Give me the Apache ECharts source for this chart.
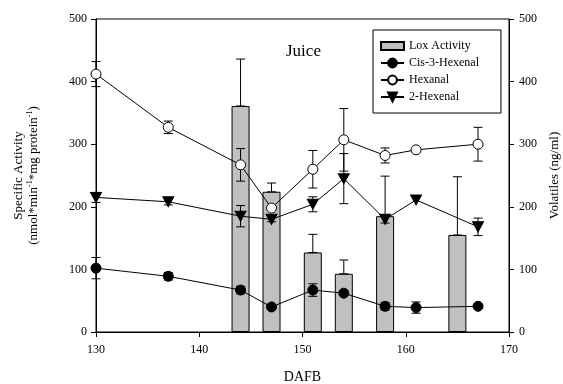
<!DOCTYPE html>
<html>
<head>
<meta charset="utf-8">
<script src="https://cdn.jsdelivr.net/npm/echarts@6/dist/echarts.min.js"></script>
<style>
  html, body { margin: 0; padding: 0; background: #fff; }
  #juiceChart { width: 563px; height: 384px; }
</style>
</head>
<body>
<div id="juiceChart"></div>
<script>
// 采样日 (DAFB)
var days = [130, 137, 144, 147, 151, 154, 158, 161, 167];
// 挥发物 (ng/ml) 及误差
var cisHexenal = [102, 89, 67, 40, 67, 62, 41, 39, 41];
var cisHexenalErr = [17, 6, 6, 2, 10, 3, 6, 9, 2];
var hexanal = [412, 327, 267, 198, 260, 307, 282, 291, 300];
var hexanalErr = [20, 10, 26, 3, 30, 50, 12, 0, 27];
var hexenal2 = [215, 208, 185, 180, 204, 245, 180, 211, 168];
var hexenal2Err = [8, 5, 17, 4, 12, 40, 6, 0, 14];
// Lox 活性
var loxDays = [144, 147, 151, 154, 158, 165];
var loxActivity = [361, 224, 127, 93, 185, 155];
var loxErr = [75, 14, 29, 22, 64, 93];
// 刻度
var xTicks = [130, 140, 150, 160, 170];
var yTicks = [0, 100, 200, 300, 400, 500];

var FONT = "'Liberation Serif', 'DejaVu Serif', serif";

function pairs(xs, ys) {
  return xs.map(function (x, i) { return [x, ys[i]]; });
}
// [x, low, high]
function errRange(xs, ys, es, upOnly) {
  return xs.map(function (x, i) {
    return [x, upOnly ? ys[i] : ys[i] - es[i], ys[i] + es[i]];
  });
}

function errorBar(params, api) {
  var x = api.value(0);
  var lo = api.coord([x, api.value(1)]);
  var hi = api.coord([x, api.value(2)]);
  if (api.value(1) === api.value(2)) return null;
  var w = 4.5;
  var st = { stroke: '#000', lineWidth: 1 };
  return {
    type: 'group',
    children: [
      { type: 'line', shape: { x1: lo[0], y1: lo[1], x2: hi[0], y2: hi[1] }, style: st },
      { type: 'line', shape: { x1: hi[0] - w, y1: hi[1], x2: hi[0] + w, y2: hi[1] }, style: st },
      { type: 'line', shape: { x1: lo[0] - w, y1: lo[1], x2: lo[0] + w, y2: lo[1] }, style: st }
    ]
  };
}

function errSeries(name, data, yIdx) {
  return {
    name: name,
    type: 'custom',
    yAxisIndex: yIdx,
    renderItem: errorBar,
    data: data,
    z: 3,
    silent: true
  };
}

var triDown = 'path://M0,0 L10,0 L5,9 Z';

var myChart = echarts.init(document.getElementById('juiceChart'));
var option = {
  animation: false,
  backgroundColor: '#fff',
  textStyle: { fontFamily: FONT, color: '#000' },
  title: {
    text: 'Juice',
    left: 281,
    top: 38,
    textStyle: { fontFamily: FONT, fontSize: 17, fontWeight: 'normal', color: '#000' }
  },
  legend: {
    orient: 'vertical',
    left: 373,
    top: 30,
    padding: [10, 22, 10, 7],
    itemGap: 5,
    itemWidth: 23,
    itemHeight: 11,
    borderColor: '#000',
    borderWidth: 1,
    borderRadius: 0,
    textStyle: { fontFamily: FONT, fontSize: 12, color: '#000' },
    data: [
      { name: 'Lox Activity', icon: 'path://M0,0 L23,0 L23,8 L0,8 Z' },
      'Cis-3-Hexenal',
      'Hexanal',
      '2-Hexenal'
    ]
  },
  grid: {
    left: 96,
    right: 54,
    top: 19,
    bottom: 52,
    outerBoundsMode: 'none',
    containLabel: false,
    show: true,
    borderColor: '#000',
    borderWidth: 1
  },
  xAxis: {
    type: 'value',
    min: 130,
    max: 170,
    interval: 10,
    name: 'DAFB',
    nameLocation: 'middle',
    nameGap: 38,
    nameTextStyle: { fontFamily: FONT, fontSize: 14, color: '#000' },
    axisLine: { show: true, lineStyle: { color: '#000', width: 1 } },
    axisTick: { show: true, length: 5, lineStyle: { color: '#000' } },
    axisLabel: {
      fontFamily: FONT, fontSize: 12, color: '#000', margin: 12,
      customValues: xTicks
    },
    splitLine: { show: false }
  },
  yAxis: [
    {
      type: 'value',
      min: 0,
      max: 500,
      interval: 100,
      position: 'left',
      name: '{a|Specific Activity}\n{a|(nmol*min}{s|-1}{a|*mg protein}{s|-1}{a|)}',
      nameLocation: 'middle',
      nameRotate: 90,
      nameGap: 55,
      nameTextStyle: {
        fontFamily: FONT,
        color: '#000',
        rich: {
          a: { fontFamily: FONT, fontSize: 13, color: '#000', lineHeight: 15 },
          s: { fontFamily: FONT, fontSize: 8, color: '#000', lineHeight: 15, verticalAlign: 'top' }
        }
      },
      axisLine: { show: true, lineStyle: { color: '#000', width: 1 } },
      axisTick: { show: true, length: 5, lineStyle: { color: '#000' } },
      axisLabel: { fontFamily: FONT, fontSize: 12, color: '#000', margin: 9, customValues: yTicks },
      splitLine: { show: false }
    },
    {
      type: 'value',
      min: 0,
      max: 500,
      interval: 100,
      position: 'right',
      name: 'Volatiles (ng/ml)',
      nameLocation: 'middle',
      nameRotate: 90,
      nameGap: 33,
      nameTextStyle: { fontFamily: FONT, fontSize: 13, color: '#000' },
      axisLine: { show: true, lineStyle: { color: '#000', width: 1 } },
      axisTick: { show: true, length: 5, lineStyle: { color: '#000' } },
      axisLabel: { fontFamily: FONT, fontSize: 12, color: '#000', margin: 10, customValues: yTicks },
      splitLine: { show: false }
    }
  ],
  series: [
    {
      name: 'Lox Activity',
      type: 'bar',
      yAxisIndex: 0,
      barWidth: 18,
      itemStyle: { color: '#c0c0c0', borderColor: '#000', borderWidth: 1 },
      data: pairs(loxDays, loxActivity),
      z: 2
    },
    errSeries('loxErr', errRange(loxDays, loxActivity, loxErr, true), 0),
    errSeries('cisErr', errRange(days, cisHexenal, cisHexenalErr), 1),
    errSeries('hexanalErr', errRange(days, hexanal, hexanalErr), 1),
    errSeries('hexenalErr', errRange(days, hexenal2, hexenal2Err), 1),
    {
      name: 'Cis-3-Hexenal',
      type: 'line',
      yAxisIndex: 1,
      symbol: 'circle',
      symbolSize: 10,
      showAllSymbol: true,
      lineStyle: { color: '#000', width: 1 },
      itemStyle: { color: '#000', borderColor: '#000', borderWidth: 1 },
      data: pairs(days, cisHexenal),
      z: 5
    },
    {
      name: 'Hexanal',
      type: 'line',
      yAxisIndex: 1,
      symbol: 'circle',
      symbolSize: 10,
      showAllSymbol: true,
      lineStyle: { color: '#000', width: 1 },
      itemStyle: { color: '#fff', borderColor: '#000', borderWidth: 1 },
      data: pairs(days, hexanal),
      z: 5
    },
    {
      name: '2-Hexenal',
      type: 'line',
      yAxisIndex: 1,
      symbol: triDown,
      symbolSize: [11, 10],
      showAllSymbol: true,
      lineStyle: { color: '#000', width: 1 },
      itemStyle: { color: '#000', borderColor: '#000', borderWidth: 1 },
      data: pairs(days, hexenal2),
      z: 5
    }
  ]
};
myChart.setOption(option);
</script>
</body>
</html>
